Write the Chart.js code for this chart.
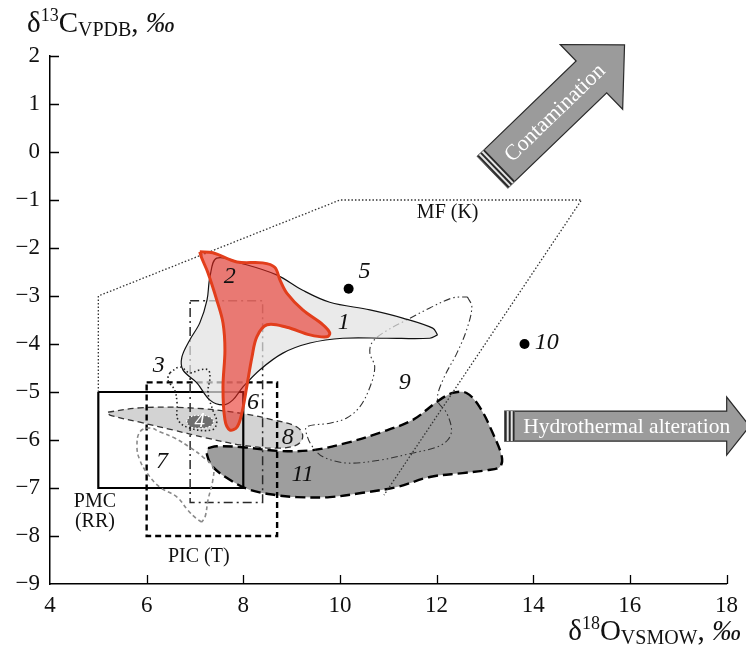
<!DOCTYPE html>
<html>
<head>
<meta charset="utf-8">
<script src="https://cdn.jsdelivr.net/npm/chart.js@4.4.1/dist/chart.umd.min.js"></script>
<style>
html, body { margin: 0; padding: 0; background: #fff; }
#wrap { width: 746px; height: 648px; }
</style>
</head>
<body>
<div id="wrap"><canvas id="chart" width="746" height="648"></canvas></div>
<script>
// ==========================================
// 1. DATA (delta18O VSMOW, delta13C VPDB)
// ==========================================
const X_MIN = 4, X_MAX = 18, X_STEP = 2;
const Y_MIN = -9, Y_MAX = 2, Y_STEP = 1;

// field 1 - light grey
const field1 = [[12.02,-3.81],[11.86,-3.88],[10.97,-3.88],[10.06,-3.88],[9.38,-3.98],[8.82,-4.19],[8.34,-4.54],
    [7.99,-4.90],[7.78,-5.17],[7.58,-5.27],[7.31,-5.17],[7.04,-4.81],[6.75,-4.54],[6.73,-4.27],[6.89,-3.92],
    [7.10,-3.56],[7.25,-3.08],[7.31,-2.60],[7.45,-2.21],[8.0,-2.33],[8.69,-2.56],[9.23,-2.88],[9.79,-3.13],
    [10.62,-3.29],[11.30,-3.46],[11.92,-3.67]];
// field 2 - red
const field2 = [[7.10,-2.08],[7.37,-2.10],[7.87,-2.29],[8.40,-2.31],[8.65,-2.40],[8.76,-2.67],[8.90,-2.94],
    [9.23,-3.29],[9.65,-3.60],[9.79,-3.77],[9.73,-3.85],[9.38,-3.81],[8.90,-3.65],[8.49,-3.60],[8.28,-3.85],
    [8.18,-4.27],[8.07,-4.90],[7.97,-5.44],[7.87,-5.73],[7.72,-5.79],[7.62,-5.58],[7.58,-4.90],[7.62,-4.13],
    [7.58,-3.56],[7.45,-3.08],[7.27,-2.52],[7.14,-2.21]];
// field 3 - dotted
const field3 = [[6.48,-4.60],[6.69,-4.48],[6.89,-4.60],[7.10,-4.54],[7.27,-4.54],[7.31,-4.69],[7.27,-5.02],
    [7.37,-5.38],[7.45,-5.63],[7.35,-5.79],[6.89,-5.75],[6.65,-5.58],[6.63,-5.23],[6.58,-4.96],[6.44,-4.75]];
// field 4 - dark oval
const field4 = [[6.82,-5.62],[6.90,-5.52],[7.10,-5.49],[7.30,-5.52],[7.38,-5.62],[7.30,-5.72],[7.10,-5.75],[6.90,-5.72]];
// field 6 - dash-dot box
const field6 = [[6.9,-3.1],[8.4,-3.1],[8.4,-7.3],[6.9,-7.3]];
// field 7 - grey dashed
const field7 = [[7.14,-7.71],[7.02,-7.63],[6.85,-7.46],[6.63,-7.19],[6.27,-6.98],[6.01,-6.69],[5.86,-6.42],
    [5.80,-6.15],[5.86,-5.83],[6.07,-5.75],[6.27,-5.83],[6.58,-5.96],[6.89,-6.15],[7.16,-6.35],[7.37,-6.56],
    [7.37,-6.83],[7.27,-7.25],[7.21,-7.60]];
// field 8 - grey, dashed outline
const field8 = [[5.20,-5.42],[5.86,-5.33],[6.89,-5.33],[7.93,-5.44],[8.61,-5.58],[9.11,-5.73],[9.23,-5.92],
    [9.11,-6.10],[8.69,-6.17],[7.93,-6.10],[7.25,-5.96],[6.54,-5.79],[5.86,-5.63],[5.24,-5.48]];
// field 9 - dash-dot-dot
const field9 = [[12.64,-3.02],[12.73,-3.23],[12.62,-3.71],[12.42,-4.19],[12.13,-4.75],[12.02,-5.17],[12.21,-5.44],
    [12.31,-5.79],[12.23,-6.00],[12.00,-6.15],[11.51,-6.27],[10.82,-6.42],[10.14,-6.48],[9.65,-6.35],[9.44,-6.15],
    [9.33,-5.94],[9.31,-5.73],[9.79,-5.65],[10.14,-5.54],[10.41,-5.31],[10.62,-4.90],[10.72,-4.48],[10.62,-4.19],
    [10.66,-3.98],[10.89,-3.77],[11.38,-3.50],[11.86,-3.25],[12.33,-3.04]];
// field 11 - dark grey, heavy dashed outline
const field11 = [[7.27,-6.17],[7.45,-6.13],[7.99,-6.15],[8.76,-6.23],[9.44,-6.21],[10.14,-6.06],[10.82,-5.85],
    [11.51,-5.58],[12.00,-5.21],[12.33,-5.02],[12.62,-5.02],[12.89,-5.31],[13.16,-5.85],[13.35,-6.35],[13.31,-6.56],
    [13.04,-6.63],[12.54,-6.69],[11.86,-6.77],[11.18,-6.98],[10.47,-7.10],[9.79,-7.19],[9.11,-7.19],[8.69,-7.15],
    [8.14,-7.04],[7.72,-6.83],[7.37,-6.56],[7.25,-6.31]];
// reference fields
const fieldMF = [[5,-5],[5,-3],[10,-1],[15,-1],[10.91,-7.15]];
const fieldPMC = [[5,-5],[8,-5],[8,-7],[5,-7]];
const fieldPIC = [[6,-4.8],[8.7,-4.8],[8.7,-8],[6,-8]];
// single samples
const samples = [[10.18,-2.85],[13.82,-4.0]];

// annotations (text, x, y)
const numberLabels = [['1',10.08,-3.56],['2',7.72,-2.60],['3',6.25,-4.46],['5',10.51,-2.50],['6',8.20,-5.23],
    ['7',6.32,-6.46],['8',8.92,-5.96],['9',11.34,-4.81],['11',9.23,-6.73]];
const contamTail = [13.16,-0.42], contamTip = [15.89,2.23];
const hydroTail = [13.41,-5.71], hydroTip = [18.48,-5.71];

// ==========================================
// 2. HELPERS
// ==========================================
const SERIF = '"Liberation Serif", "DejaVu Serif", serif';

function toXY(pts, close) {
    const arr = close ? pts.concat([pts[0]]) : pts;
    return arr.map(p => ({ x: p[0], y: p[1] }));
}

function outline(pts, opts) {
    return Object.assign({
        data: toXY(pts, true), showLine: true, pointRadius: 0, pointHoverRadius: 0,
        fill: false, tension: 0.4, borderWidth: 1.2, borderColor: '#000'
    }, opts);
}

function richText(ctx, parts, x, y, align) {
    let w = 0;
    parts.forEach(p => { ctx.font = (p.it ? 'italic ' : '') + p.s + 'px ' + SERIF; w += ctx.measureText(p.t).width; });
    let cx = align === 'right' ? x - w : x;
    ctx.textAlign = 'left';
    ctx.textBaseline = 'alphabetic';
    parts.forEach(p => {
        ctx.font = (p.it ? 'italic ' : '') + p.s + 'px ' + SERIF;
        ctx.fillText(p.t, cx, y + (p.dy || 0));
        cx += ctx.measureText(p.t).width;
    });
}

function drawArrow(ctx, p0, p1, shaftHalf, headHalf, headLen) {
    const ang = Math.atan2(p1.y - p0.y, p1.x - p0.x);
    const L = Math.hypot(p1.x - p0.x, p1.y - p0.y);
    ctx.translate(p0.x, p0.y);
    ctx.rotate(ang);
    ctx.beginPath();
    ctx.moveTo(0, -shaftHalf);
    ctx.lineTo(L - headLen, -shaftHalf);
    ctx.lineTo(L - headLen, -headHalf);
    ctx.lineTo(L, 0);
    ctx.lineTo(L - headLen, headHalf);
    ctx.lineTo(L - headLen, shaftHalf);
    ctx.lineTo(0, shaftHalf);
    ctx.closePath();
    ctx.fillStyle = '#9b9b9b';
    ctx.fill();
    ctx.strokeStyle = '#2a2a2a';
    ctx.lineWidth = 1.2;
    ctx.stroke();
    // tail stripes
    ctx.fillStyle = '#e4e4e4';
    ctx.fillRect(0, -shaftHalf, 10, shaftHalf * 2);
    ctx.lineWidth = 2;
    [1, 5, 9].forEach(s => {
        ctx.beginPath(); ctx.moveTo(s, -shaftHalf); ctx.lineTo(s, shaftHalf); ctx.stroke();
    });
    return L;
}

// ==========================================
// 3. DECORATION PLUGIN
// ==========================================
const decor = {
    id: 'decor',
    afterDatasetsDraw(chart) {
        const { ctx, scales: { x, y } } = chart;
        ctx.save();
        ctx.fillStyle = '#111';
        ctx.textAlign = 'center';
        ctx.textBaseline = 'middle';
        ctx.font = 'italic 24px ' + SERIF;
        numberLabels.forEach(l => ctx.fillText(l[0], x.getPixelForValue(l[1]), y.getPixelForValue(l[2])));
        ctx.textAlign = 'left';
        ctx.fillText('10', x.getPixelForValue(14.03), y.getPixelForValue(-3.98));
        ctx.fillStyle = '#fff';
        ctx.textAlign = 'center';
        ctx.font = 'italic 21px ' + SERIF;
        ctx.fillText('4', x.getPixelForValue(7.10), y.getPixelForValue(-5.62));

        ctx.fillStyle = '#111';
        ctx.font = '20px ' + SERIF;
        ctx.fillText('MF (K)', x.getPixelForValue(12.23), y.getPixelForValue(-1.27));
        ctx.fillText('PMC', x.getPixelForValue(4.93), y.getPixelForValue(-7.29));
        ctx.fillText('(RR)', x.getPixelForValue(4.93), y.getPixelForValue(-7.71));
        ctx.fillText('PIC (T)', x.getPixelForValue(7.08), y.getPixelForValue(-8.44));
        ctx.restore();
    },
    afterDraw(chart) {
        const { ctx, scales: { x, y } } = chart;
        ctx.save();
        // inward tick marks
        ctx.strokeStyle = '#000';
        ctx.lineWidth = 1.3;
        ctx.beginPath();
        for (let v = X_MIN + X_STEP; v <= X_MAX; v += X_STEP) {
            const px = Math.round(x.getPixelForValue(v)) + 0.5;
            ctx.moveTo(px, y.bottom); ctx.lineTo(px, y.bottom - 9);
        }
        for (let v = Y_MIN + Y_STEP; v <= Y_MAX; v += Y_STEP) {
            const py = Math.round(y.getPixelForValue(v)) + 0.5;
            ctx.moveTo(x.left, py); ctx.lineTo(x.left + 9, py);
        }
        ctx.stroke();

        // axis titles
        ctx.fillStyle = '#111';
        richText(ctx, [
            { t: 'δ', s: 29 }, { t: '13', s: 18, dy: -11 }, { t: 'C', s: 29 }, { t: 'VPDB', s: 20, dy: 4 },
            { t: ', ', s: 29 }, { t: '‰', s: 29, it: true }
        ], 27, 32, 'left');
        richText(ctx, [
            { t: 'δ', s: 29 }, { t: '18', s: 18, dy: -11 }, { t: 'O', s: 29 }, { t: 'VSMOW', s: 20, dy: 4 },
            { t: ', ', s: 29 }, { t: '‰', s: 29, it: true }
        ], 741, 640, 'right');

        // contamination arrow
        const c0 = { x: x.getPixelForValue(contamTail[0]), y: y.getPixelForValue(contamTail[1]) };
        const c1 = { x: x.getPixelForValue(contamTip[0]), y: y.getPixelForValue(contamTip[1]) };
        ctx.save();
        drawArrow(ctx, c0, c1, 22, 45, 46);
        ctx.fillStyle = '#fff';
        ctx.font = '22px ' + SERIF;
        ctx.textAlign = 'center';
        ctx.textBaseline = 'middle';
        ctx.fillText('Contamination', 86, 1);
        ctx.restore();

        // hydrothermal alteration arrow
        const h0 = { x: x.getPixelForValue(hydroTail[0]), y: y.getPixelForValue(hydroTail[1]) };
        const h1 = { x: x.getPixelForValue(hydroTip[0]), y: y.getPixelForValue(hydroTip[1]) };
        ctx.save();
        drawArrow(ctx, h0, h1, 15, 29, 23);
        ctx.fillStyle = '#fff';
        ctx.font = '21.5px ' + SERIF;
        ctx.textAlign = 'center';
        ctx.textBaseline = 'middle';
        ctx.fillText('Hydrothermal alteration', 122, 1);
        ctx.restore();
        ctx.restore();
    }
};

// ==========================================
// 4. CHART
// ==========================================
const datasets = [
    { data: toXY(samples), showLine: false, pointRadius: 5, pointBackgroundColor: '#000', pointBorderWidth: 0, order: 0 },
    outline(field4, { fill: 'shape', backgroundColor: '#6e6e6e', borderColor: '#fff', borderDash: [1.5, 2], borderWidth: 1.2, tension: 0.5, order: 1 }),
    outline(field2, { fill: 'shape', backgroundColor: 'rgba(232,40,30,0.58)', borderColor: '#e23e1c', borderWidth: 3, tension: 0.35, order: 2 }),
    outline(field3, { borderColor: '#222', borderDash: [1.5, 2.5], borderWidth: 1.6, order: 3 }),
    outline(field1, { fill: 'shape', backgroundColor: 'rgba(226,226,226,0.72)', borderColor: '#111', borderWidth: 1.2, tension: 0.35, order: 4 }),
    outline(field7, { borderColor: '#8a8a8a', borderDash: [4, 3], borderWidth: 1.6, order: 5 }),
    { data: toXY(fieldMF), showLine: true, pointRadius: 0, fill: false, tension: 0, borderColor: '#333', borderDash: [1.5, 2], borderWidth: 1.3, order: 6 },
    outline(field9, { borderColor: '#333', borderDash: [7, 3, 1.5, 3, 1.5, 3], borderWidth: 1.1, tension: 0.35, order: 7 }),
    outline(field6, { borderColor: '#2a2a2a', borderDash: [9, 4, 2, 4], borderWidth: 1.5, tension: 0, order: 8 }),
    outline(fieldPMC, { borderColor: '#000', borderWidth: 2.2, tension: 0, order: 9 }),
    outline(fieldPIC, { borderColor: '#000', borderDash: [6, 4], borderWidth: 2.4, tension: 0, order: 10 }),
    outline(field8, { fill: 'shape', backgroundColor: '#d3d3d3', borderColor: '#333', borderDash: [6, 4], borderWidth: 1.3, order: 11 }),
    outline(field11, { fill: 'shape', backgroundColor: '#9e9e9e', borderColor: '#000', borderDash: [10, 5], borderWidth: 2.4, tension: 0.35, order: 12 })
];

new Chart(document.getElementById('chart').getContext('2d'), {
    type: 'scatter',
    data: { datasets },
    options: {
        responsive: false,
        animation: false,
        events: [],
        layout: { padding: { top: 56, right: 19, left: 0, bottom: 0 } },
        plugins: { legend: { display: false }, tooltip: { enabled: false } },
        scales: {
            x: {
                type: 'linear', min: X_MIN, max: X_MAX,
                afterFit: s => { s.height = 64; },
                grid: { display: false, drawTicks: false },
                border: { display: true, color: '#000', width: 1.5 },
                ticks: { stepSize: X_STEP, color: '#111', padding: 8, font: { family: SERIF, size: 23 } }
            },
            y: {
                type: 'linear', min: Y_MIN, max: Y_MAX,
                afterFit: s => { s.width = 50; },
                grid: { display: false, drawTicks: false },
                border: { display: true, color: '#000', width: 1.5 },
                ticks: {
                    stepSize: Y_STEP, color: '#111', padding: 10, font: { family: SERIF, size: 23 },
                    callback: v => (v < 0 ? '\u2212' + Math.abs(v) : String(v))
                }
            }
        }
    },
    plugins: [decor]
});
</script>
</body>
</html>
